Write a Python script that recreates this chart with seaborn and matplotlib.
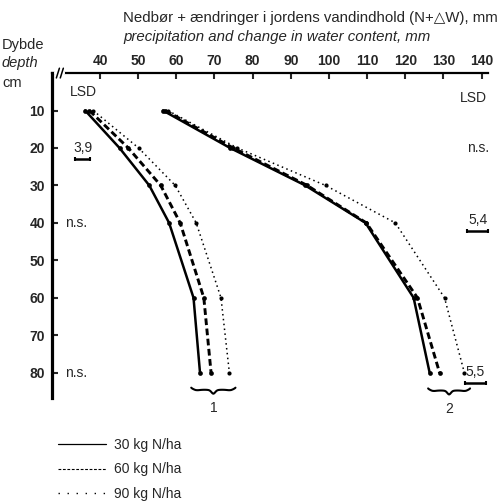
import numpy as np
import pandas as pd
import seaborn as sns
import matplotlib.pyplot as plt
from matplotlib.lines import Line2D

# ---------------------------- Data ----------------------------
depths = [10, 20, 30, 40, 60, 80]
rates = ['30 kg N/ha', '60 kg N/ha', '90 kg N/ha']

# group 1 (left set of curves)
g1_30 = [36.1, 45.1, 52.9, 58.1, 64.5, 66.2]
g1_60 = [37.2, 47.4, 55.9, 61.0, 67.2, 69.1]
g1_90 = [38.2, 50.1, 59.7, 65.2, 71.7, 73.9]
# group 2 (right set of curves)
g2_30 = [56.5, 74.1, 93.8, 109.6, 122.2, 126.4]
g2_60 = [57.1, 74.9, 94.3, 109.8, 123.2, 129.0]
g2_90 = [57.8, 76.0, 99.1, 117.4, 130.3, 135.5]

x_ticks = [40, 50, 60, 70, 80, 90, 100, 110, 120, 130, 140]
y_ticks = [10, 20, 30, 40, 50, 60, 70, 80]

# LSD values: (label, value, centre x, depth)
lsd_left = [('3,9', 3.9, 35.4, 22.9)]
lsd_right = [('5,4', 5.4, 139.0, 42.1), ('5,5', 5.5, 138.3, 82.7)]

rows = []
for grp, vals in [('1', [g1_30, g1_60, g1_90]), ('2', [g2_30, g2_60, g2_90])]:
    for rate, v in zip(rates, vals):
        for d, x in zip(depths, v):
            rows.append({'group': grp, 'rate': rate, 'depth': d, 'value': x})
df = pd.DataFrame(rows)

# ---------------------------- Plot ----------------------------
sns.set_style('white')
plt.rcParams['font.family'] = ['Liberation Sans', 'DejaVu Sans']

fig = plt.figure(figsize=(5.0, 5.04), dpi=100)
ax = fig.add_axes([0.104, 0.210, 0.872, 0.645])

styles = {
    '30 kg N/ha': dict(lw=1.8, dashes=None, ms=3.4),
    '60 kg N/ha': dict(lw=2.1, dashes=(2.3, 1.2), ms=3.4),
    '90 kg N/ha': dict(lw=1.1, dashes=(1.0, 2.2), ms=3.0),
}
for rate in rates:
    st = styles[rate]
    sns.lineplot(data=df[df['rate'] == rate], x='value', y='depth', units='group',
                 estimator=None, sort=False, orient='y', color='black',
                 lw=st['lw'], marker='o', ms=st['ms'], mew=0, ax=ax, legend=False)
    if st['dashes'] is not None:
        for ln in ax.lines[-2:]:
            ln.set_dashes(st['dashes'])

ax.set_xlim(27.4, 141.7)
ax.set_ylim(86.8, 0)
ax.xaxis.tick_top()
ax.set_xticks(x_ticks)
ax.set_yticks(y_ticks)
ax.tick_params(axis='x', direction='in', length=4, width=1.5, pad=4, labelsize=10, top=True, bottom=False)
ax.tick_params(axis='y', direction='in', length=4, width=1.5, pad=5, labelsize=10, left=True)
for lab in ax.get_xticklabels() + ax.get_yticklabels():
    lab.set_fontweight('bold')
ax.set_xlabel('')
ax.set_ylabel('')
for s in ['right', 'bottom']:
    ax.spines[s].set_visible(False)
ax.spines['left'].set_linewidth(2.3)
ax.spines['top'].set_linewidth(1.6)
ax.spines['left'].set_color('black')
ax.spines['top'].set_color('black')

# axis break marks
tr = ax.transAxes
ax.plot([0.009, 0.026], [1.0, 1.0], color='white', lw=3, transform=tr, clip_on=False, zorder=5)
for x0 in [0.010, 0.019]:
    ax.plot([x0, x0 + 0.007], [0.985, 1.015], color='black', lw=1.1, transform=tr, clip_on=False, zorder=6)

# LSD labels
ax.text(32.1, 5.0, 'LSD', fontsize=10, va='center', ha='left')
ax.text(141.5, 6.7, 'LSD', fontsize=10, va='center', ha='right')
ax.text(30.8, 40, 'n.s.', fontsize=10, va='center', ha='left')
ax.text(30.8, 80, 'n.s.', fontsize=10, va='center', ha='left')
ax.text(139.0, 20, 'n.s.', fontsize=10, va='center', ha='center')
for lab, lsd, cx, d in lsd_left + lsd_right:
    ax.errorbar(cx, d, xerr=lsd / 2, fmt='none', ecolor='black', elinewidth=1.8,
                capsize=1.5, capthick=1.5, clip_on=False)
    ax.text(cx, d - 0.9, lab, fontsize=10, ha='center', va='bottom')

# curly braces under groups
def brace(x0, x1, y, label):
    t = np.linspace(0, 1, 101)
    s = np.minimum(t, 1 - t) / 0.5          # 0 at ends, 1 at centre
    prof = 0.55 * np.sin(np.pi / 2 * np.clip(s / 0.35, 0, 1)) ** 0.8
    prof = prof - 0.15 * np.sin(np.pi * np.clip((s - 0.2) / 0.8, 0, 1))
    prof = prof + 0.6 * np.exp(-((1 - s) / 0.12) ** 2)
    xs = x0 + (x1 - x0) * t
    ax.plot(xs, y + 1.4 * prof, color='black', lw=1.5, clip_on=False, solid_capstyle='round')
    ax.text((x0 + x1) / 2, y + 5.5, label, fontsize=10, ha='center', va='center', clip_on=False)

brace(63.9, 75.5, 84.0, '1')
brace(126.0, 137.0, 84.2, '2')

# titles
fig.text(0.246, 1 - 18 / 504, 'Nedbør + ændringer i jordens vandindhold (N+△W), mm',
         fontsize=10.8, va='center', ha='left')
fig.text(0.246, 1 - 37 / 504, 'precipitation and change in water content, mm',
         fontsize=10.8, va='center', ha='left', style='italic')
fig.text(0.004, 1 - 45 / 504, 'Dybde', fontsize=10.5, va='center', ha='left')
fig.text(0.004, 1 - 63 / 504, 'depth', fontsize=10.5, va='center', ha='left', style='italic')
fig.text(0.004, 1 - 83 / 504, 'cm', fontsize=10.5, va='center', ha='left')

# legend
handles = [
    Line2D([], [], color='black', lw=0.9),
    Line2D([], [], color='black', lw=0.8, dashes=(2.5, 1.5)),
    Line2D([], [], color='black', lw=1.0, dashes=(1.0, 5.5)),
]
fig.legend(handles, rates, loc='upper left', bbox_to_anchor=(0.115, 1 - 438 / 504),
           frameon=False, fontsize=10, handlelength=3.5, handletextpad=0.6,
           labelspacing=0.75, borderpad=0, borderaxespad=0)

fig.savefig('out.png', dpi=100)
